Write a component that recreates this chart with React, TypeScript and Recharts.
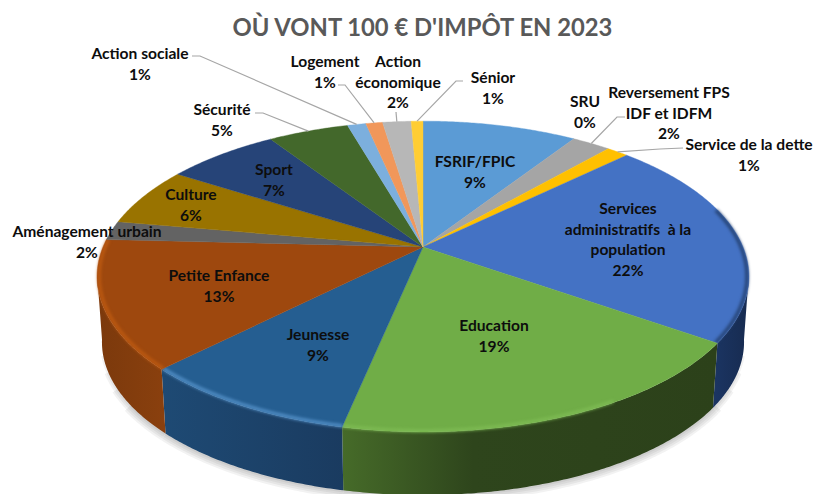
import React from 'react';
import { PieChart, Pie } from 'recharts';

const categories = ['FSRIF/FPIC', 'SRU', 'Reversement FPS IDF et IDFM', 'Service de la dette', 'Services administratifs à la population', 'Education', 'Jeunesse', 'Petite Enfance', 'Aménagement urbain', 'Culture', 'Sport', 'Sécurité', 'Action sociale', 'Logement', 'Action économique', 'Sénior'];
const shares = [9.2, 0, 2.3, 1.3, 21.9, 18.6, 9.2, 13.3, 2.0, 6.2, 6.7, 4.8, 1.1, 1.0, 1.7, 0.7];
const sliceColors = ['#5b9bd5', '#ed7d31', '#a5a5a5', '#ffc000', '#4472c4', '#70ad47', '#255e91', '#9e480e', '#636363', '#997300', '#264478', '#43682b', '#7cafdd', '#f1975a', '#b7b7b7', '#ffcd33'];
const title = "OÙ VONT 100 € D'IMPÔT EN 2023";

const labelLines: Record<string, string[]> = {
  'Reversement FPS IDF et IDFM': ['Reversement FPS', 'IDF et IDFM'],
  'Services administratifs à la population': ['Services', 'administratifs  à la', 'population'],
  'Action économique': ['Action', 'économique'],
};

// label layout: centre x, first-line centre y
const labelPlace: [number, number][] = [
  [475, 161], [585, 101], [669, 92], [749, 144], [628, 208], [494, 325], [318, 334], [219, 275],
  [87, 231], [191, 194], [274, 169], [222, 109], [140, 53], [325, 61], [398, 61], [493, 77],
];
// leader-line layout: start and elbow; the far end comes from the slice's mid-angle
const leaderPlace: Record<number, [number, number][]> = {
  2: [[625, 117], [617, 117]],
  3: [[683, 148], [660, 149]],
  11: [[255, 113], [263, 113]],
  12: [[192, 56], [200, 56]],
  13: [[338, 85], [345, 85]],
  14: [[396, 112], [396, 112]],
  15: [[463, 81], [456, 81]],
};

const wallStops: Record<number, [number, string][]> = {
  4: [[0, '#1b3563'], [1, '#172b50']],
  5: [[0, '#466b29'], [0.35, '#2e451c'], [1, '#2c411a']],
  6: [[0, '#1e4a74'], [1, '#1a3b60']],
  7: [[0, '#7b390c'], [1, '#8a400e']],
};
const rimStyle: Record<number, { color: string; from: number; to: number; opacity: number }> = {
  4: { color: '#24406f', from: 75, to: 125, opacity: 0.9 },
  5: { color: '#7fbd55', from: 150, to: 195, opacity: 0.8 },
  6: { color: '#5a97cf', from: 0, to: 360, opacity: 0.8 },
  7: { color: '#c25c12', from: 0, to: 280, opacity: 0.8 },
};
// shadow strokes: width and how far (degrees) each stops short of the plate's sides
const shadowLayers: [number, number][] = [[16, 24], [12, 18], [8, 12], [4, 6]];

const TILT = 0.468; // vertical scale of the plate
const PERSP = 0.19; // perspective strength
const WALL_DROP = 66;
const WALL_SCALE = 0.985;

function project(cx: number, cy: number, r: number, theta: number, drop = 0, s = 1): [number, number] {
  const rad = (theta * Math.PI) / 180;
  const X = Math.sin(rad);
  const Y = -Math.cos(rad);
  const d = 1 - PERSP * Y;
  return [cx + (s * r * X) / d, cy + drop + (s * r * TILT * Y) / d];
}

function arcPoints(cx: number, cy: number, r: number, t0: number, t1: number, drop = 0, s = 1) {
  const out: [number, number][] = [];
  const n = Math.max(2, Math.ceil(Math.abs(t1 - t0) * 2));
  for (let i = 0; i <= n; i++) out.push(project(cx, cy, r, t0 + ((t1 - t0) * i) / n, drop, s));
  return out;
}

const toPath = (pts: [number, number][]) => pts.map((p, i) => `${i ? 'L' : 'M'}${p[0].toFixed(2)},${p[1].toFixed(2)}`).join(' ');

function TopFace(props: any) {
  const { cx, cy, outerRadius: r, startAngle, endAngle, fill, name } = props;
  const i = categories.indexOf(name);
  const t0 = 90 - startAngle;
  const t1 = 90 - endAngle;
  if (t1 - t0 <= 0) return null;
  const pts = arcPoints(cx, cy, r, t0, t1);
  const rim = rimStyle[i];
  let rimPath = '';
  if (rim) {
    const a = Math.max(t0, rim.from);
    const b = Math.min(t1, rim.to);
    if (b > a) rimPath = toPath(arcPoints(cx, cy, r - 2, a, b));
  }
  return (
    <g>
      <path d={`M${cx},${cy} ${toPath(pts).replace('M', 'L')} Z`} fill={fill} stroke={fill} strokeWidth={0.4} />
      {rimPath && <path d={rimPath} fill="none" stroke={rim.color} strokeOpacity={rim.opacity} strokeWidth={3.5} style={{ filter: 'blur(1.5px)' }} />}
    </g>
  );
}

function WallShadow(props: any) {
  const { cx, cy, outerRadius: r, startAngle, endAngle } = props;
  const a = 90 - startAngle;
  const b = 90 - endAngle;
  return (
    <g>
      {shadowLayers.map(([w, inset]) => {
        const t0 = Math.max(a, 100 + inset);
        const t1 = Math.min(b, 260 - inset);
        if (t1 <= t0) return null;
        return <path key={w} d={toPath(arcPoints(cx, cy, r, t0, t1, WALL_DROP, WALL_SCALE))} fill="none" stroke="#000" strokeOpacity={0.05} strokeWidth={w} />;
      })}
    </g>
  );
}

function WallPaint(props: any) {
  const { cx, cy, outerRadius: r, startAngle, endAngle, name } = props;
  const i = categories.indexOf(name);
  const t0 = Math.max(90 - startAngle, 100);
  const t1 = Math.min(90 - endAngle, 260);
  if (t1 <= t0) return null;
  const top = arcPoints(cx, cy, r, t0, t1);
  const bottom = arcPoints(cx, cy, r, t1, t0, WALL_DROP, WALL_SCALE);
  const stops = wallStops[i] ?? [[0, '#555'], [1, '#555']];
  return (
    <g>
      <defs>
        <linearGradient id={`wall-${i}`} x1="0" x2="1" y1="0" y2="0">
          {stops.map(([o, c]) => (
            <stop key={o} offset={o} stopColor={c} />
          ))}
        </linearGradient>
      </defs>
      <path d={`${toPath(top)} ${toPath(bottom).replace('M', 'L')} Z`} fill={`url(#wall-${i})`} />
    </g>
  );
}

function SliceLabel(props: any) {
  const { index, cx, cy, outerRadius: r, midAngle, name, value } = props;
  const [lx, ly] = labelPlace[index];
  const lines = [...(labelLines[name] ?? [name]), `${Math.round(value)}%`];
  const lead = leaderPlace[index];
  let leader = null;
  if (lead) {
    const end = project(cx, cy, r, 90 - midAngle);
    leader = <polyline points={[...lead, end].map((p) => p.join(',')).join(' ')} fill="none" stroke="#a6a6a6" strokeWidth={1.2} />;
  }
  return (
    <g>
      {leader}
      <text textAnchor="middle" fontFamily="Lato" fontWeight={700} fontSize={15.6} fill="#0d0d0d">
        {lines.map((t, k) => (
          <tspan key={k} x={lx} y={ly + k * 20.5} dominantBaseline="central" xmlSpace="preserve">
            {t}
          </tspan>
        ))}
      </text>
    </g>
  );
}

const pieData = categories.map((name, i) => ({ name, value: shares[i], fill: sliceColors[i] }));

export default function App() {
  return (
    <div style={{ position: 'absolute', left: 0, top: 0, width: 814, height: 494, background: '#fff', overflow: 'hidden' }}>
      <PieChart width={814} height={494} margin={{ top: 0, right: 0, bottom: 0, left: 0 }}>
        <text x={422.5} y={27} textAnchor="middle" dominantBaseline="central" fontFamily="Lato" fontWeight={700} fontSize={23.8} fill="#595959">
          {title}
        </text>
        <Pie data={pieData} dataKey="value" nameKey="name" cx={423} cy={247} outerRadius={320} startAngle={90} endAngle={-270} stroke="none" isAnimationActive={false} shape={WallShadow} />
        <Pie data={pieData} dataKey="value" nameKey="name" cx={423} cy={247} outerRadius={320} startAngle={90} endAngle={-270} stroke="none" isAnimationActive={false} shape={WallPaint} />
        <Pie data={pieData} dataKey="value" nameKey="name" cx={423} cy={247} outerRadius={320} startAngle={90} endAngle={-270} stroke="none" isAnimationActive={false} shape={TopFace} labelLine={false} label={SliceLabel} />
      </PieChart>
    </div>
  );
}
